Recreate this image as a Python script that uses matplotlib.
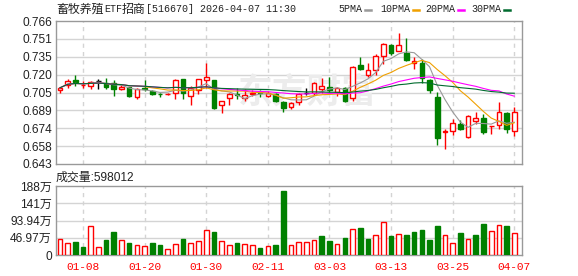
import matplotlib
matplotlib.use("Agg")
import matplotlib.pyplot as plt
import numpy as np
import pandas as pd
from matplotlib.lines import Line2D

# 日期 (交易日)
dates = ["01-05", "01-06", "01-07", "01-08", "01-09", "01-12", "01-13", "01-14", "01-15", "01-16",
         "01-19", "01-20", "01-21", "01-22", "01-23", "01-26", "01-27", "01-28", "01-29", "01-30",
         "02-02", "02-03", "02-04", "02-05", "02-06", "02-09", "02-10", "02-11", "02-12", "02-13",
         "02-24", "02-25", "02-26", "02-27", "03-02", "03-03", "03-04", "03-05", "03-06", "03-09",
         "03-10", "03-11", "03-12", "03-13", "03-16", "03-17", "03-18", "03-19", "03-20", "03-23",
         "03-24", "03-25", "03-26", "03-27", "03-30", "03-31", "04-01", "04-02", "04-03", "04-07"]

opens = [0.7064, 0.7109, 0.7151, 0.7108, 0.7103, 0.7140, 0.7129, 0.7123, 0.7076, 0.7090,
         0.7009, 0.7082, 0.7056, 0.7031, 0.7028, 0.7040, 0.7157, 0.7017, 0.7067, 0.7151,
         0.7151, 0.6936, 0.6997, 0.7028, 0.7000, 0.7034, 0.7045, 0.7017, 0.7034, 0.6963,
         0.6918, 0.6963, 0.7045, 0.7040, 0.7073, 0.7095, 0.7048, 0.7087, 0.6997, 0.7282,
         0.7199, 0.7241, 0.7355, 0.7450, 0.7403, 0.7389, 0.7297, 0.7299, 0.7156, 0.7006,
         0.6708, 0.6714, 0.6770, 0.6664, 0.6802, 0.6829, 0.6755, 0.6768, 0.6871, 0.6717]
highs = [0.7093, 0.7157, 0.7196, 0.7144, 0.7148, 0.7157, 0.7173, 0.7151, 0.7120, 0.7096,
         0.7081, 0.7151, 0.7067, 0.7040, 0.7037, 0.7157, 0.7157, 0.7104, 0.7165, 0.7299,
         0.7151, 0.6969, 0.7045, 0.7087, 0.7073, 0.7067, 0.7067, 0.7062, 0.7040, 0.6969,
         0.6963, 0.7045, 0.7082, 0.7137, 0.7168, 0.7182, 0.7095, 0.7095, 0.7277, 0.7352,
         0.7299, 0.7375, 0.7473, 0.7464, 0.7557, 0.7515, 0.7353, 0.7333, 0.7165, 0.7053,
         0.6734, 0.6818, 0.6812, 0.6848, 0.6880, 0.6863, 0.6760, 0.6961, 0.6880, 0.6919]
lows = [0.7042, 0.7081, 0.7104, 0.7080, 0.7076, 0.7076, 0.7076, 0.7017, 0.7067, 0.7009,
        0.6992, 0.7060, 0.7020, 0.7009, 0.7023, 0.6992, 0.6992, 0.6941, 0.7034, 0.7087,
        0.6899, 0.6866, 0.6936, 0.6989, 0.6972, 0.7017, 0.7003, 0.7003, 0.6963, 0.6880,
        0.6907, 0.6941, 0.7020, 0.7020, 0.7040, 0.7048, 0.7011, 0.6961, 0.6969, 0.7240,
        0.7179, 0.7193, 0.7291, 0.7369, 0.7403, 0.7319, 0.7243, 0.7128, 0.7045, 0.6594,
        0.6558, 0.6678, 0.6720, 0.6656, 0.6773, 0.6684, 0.6689, 0.6731, 0.6695, 0.6667]
closes = [0.7085, 0.7146, 0.7137, 0.7112, 0.7137, 0.7140, 0.7095, 0.7073, 0.7093, 0.7017,
          0.7073, 0.7076, 0.7034, 0.7028, 0.7031, 0.7151, 0.7040, 0.7081, 0.7157, 0.7179,
          0.6913, 0.6969, 0.7031, 0.7023, 0.7026, 0.7040, 0.7037, 0.7040, 0.6969, 0.6913,
          0.6952, 0.7031, 0.7045, 0.7129, 0.7101, 0.7067, 0.7082, 0.6975, 0.7263, 0.7249,
          0.7241, 0.7355, 0.7459, 0.7383, 0.7450, 0.7325, 0.7319, 0.7170, 0.7067, 0.6655,
          0.6712, 0.6785, 0.6734, 0.6840, 0.6829, 0.6703, 0.6759, 0.6877, 0.6731, 0.6877]
# 成交量 (万)
volumes = [43.6, 31.8, 35.4, 21.8, 79.9, 20.9, 40.8, 62.6, 39.9, 32.7,
           26.3, 24.5, 32.7, 27.2, 15.4, 29.0, 43.6, 31.8, 38.1, 68.1,
           62.6, 38.1, 26.3, 32.7, 29.0, 26.3, 19.1, 23.6, 27.2, 174.3,
           26.3, 35.4, 35.4, 40.8, 51.7, 38.1, 29.0, 46.3, 70.8, 73.5,
           43.6, 53.5, 89.9, 51.7, 57.2, 54.5, 62.6, 68.1, 41.7, 79.0,
           53.5, 32.7, 59.9, 43.6, 54.5, 84.4, 65.3, 80.8, 79.0, 59.8]

tick_dates = ["01-08", "01-20", "01-30", "02-11", "03-03", "03-13", "03-25", "04-07"]
price_labels = ["0.643", "0.658", "0.674", "0.689", "0.705", "0.720", "0.735", "0.751", "0.766"]
vol_ticks = [0, 46.97, 93.94, 140.91, 187.88]
vol_labels = ["0", "46.97万", "93.94万", "141万", "188万"]

ma_periods = [5, 10, 20, 30]
ma_colors = ["#999999", "#f0a000", "#ff00ff", "#006b2e"]

RED = "#ff0000"
GREEN = "#008000"
GRID = "#d4d4d4"
SPINE = "#999999"
TXT = "#222222"
cjk = ["Liberation Sans", "Noto Sans CJK SC"]

x = np.arange(len(dates))
o = np.array(opens)
c = np.array(closes)
prev = np.r_[o[0], c[:-1]]

fig = plt.figure(figsize=(5.78, 2.76), dpi=100)
ax = fig.add_axes([56 / 578, 1 - 164 / 276, 466 / 578, 143 / 276])
axv = fig.add_axes([56 / 578, 1 - 255 / 276, 466 / 578, 69 / 276])

for a in (ax, axv):
    for s in a.spines.values():
        s.set_color(SPINE)
        s.set_linewidth(1.0)
    a.set_xlim(-0.5, 60.0)
    a.tick_params(length=0, labelsize=8.6, colors=TXT, pad=3)
    tick_idx = [dates.index(d) for d in tick_dates]
    a.set_xticks(tick_idx)
    for t in tick_idx:
        a.axvline(t, color=GRID, lw=1.0, ls=(0, (3, 3)), zorder=0)

# 价格面板
ymin, ymax = 0.643, 0.766
ax.set_ylim(ymin, ymax)
pt = np.linspace(ymin, ymax, 9)
ax.set_yticks(pt)
ax.set_yticklabels(price_labels, family="Liberation Sans")
for v in pt[1:-1]:
    ax.axhline(v, color=GRID, lw=1.0, zorder=0)
ax.set_xticklabels([])

ax.text(0.54, 0.5, "东方财富", transform=ax.transAxes, ha="center", va="center",
        fontsize=25, fontweight="bold", color="#ececec", family="Noto Sans CJK SC", zorder=0.5)

w = 0.6
for i in x:
    if c[i] > o[i]:
        col = RED
    elif c[i] < o[i]:
        col = GREEN
    else:
        col = "black"
    ax.vlines(i, lows[i], highs[i], color=col, lw=1.0, zorder=2)
    if c[i] == o[i]:
        ax.hlines(c[i], i - w / 2, i + w / 2, color=col, lw=1.0, zorder=3)
    else:
        lo, hi = min(o[i], c[i]), max(o[i], c[i])
        fc = "white" if col == RED else GREEN
        ax.bar(i, hi - lo, bottom=lo, width=w, facecolor=fc, edgecolor=col,
               linewidth=1.0, zorder=3)

s = pd.Series(closes)
for n, mc in zip(ma_periods, ma_colors):
    ax.plot(x, s.rolling(n, min_periods=1).mean(), color=mc, lw=0.8, zorder=4)

# 成交量面板
axv.set_ylim(0, 187.88)
axv.set_yticks(vol_ticks)
axv.set_yticklabels(vol_labels, family=cjk)
for v in vol_ticks[1:-1]:
    axv.axhline(v, color=GRID, lw=1.0, zorder=0)
up = c >= prev
for i in x:
    if up[i]:
        axv.bar(i, volumes[i], width=w, facecolor="white", edgecolor=RED, linewidth=1.0, zorder=3)
    else:
        axv.bar(i, volumes[i], width=w, facecolor=GREEN, edgecolor=GREEN, linewidth=1.0, zorder=3)
axv.set_xticklabels(tick_dates, family="Liberation Mono", fontsize=8, color=RED)
axv.tick_params(axis="x", pad=5)

# 标题 (中文与西文分段排版)
ty = 1 - 9 / 276
title_parts = [(56, "畜牧养殖", True), (104, "ETF", False), (122, "招商", True),
               (146, "[516670]", False), (194, " 2026-04-07 11:30", False)]
for px, txt, is_cjk in title_parts:
    if is_cjk:
        fig.text(px / 578, ty, txt, family="Noto Sans CJK SC", fontsize=8.6, color=TXT,
                 va="center", ha="left")
    else:
        fig.text(px / 578, ty, txt, family="Liberation Mono", fontsize=7.2, color=TXT,
                 va="center", ha="left")

fig.text(56 / 578, 1 - 178 / 276, "成交量:598012", family=cjk, fontsize=8.6, color=TXT,
         va="center", ha="left")

# 均线图例
leg_x = [338, 380, 425, 471]
for lx, n, mc in zip(leg_x, ma_periods, ma_colors):
    label = f"{n}PMA"
    fig.text(lx / 578, ty, label, family="Liberation Mono", fontsize=7.2,
             color=TXT, va="center", ha="left")
    dx = lx + 6 * len(label) + 3
    fig.add_artist(Line2D([dx / 578, (dx + 6) / 578], [1 - 9.5 / 276, 1 - 9.5 / 276],
                          color=mc, lw=1.8, transform=fig.transFigure))

fig.savefig("out.png", dpi=100, facecolor="white")
